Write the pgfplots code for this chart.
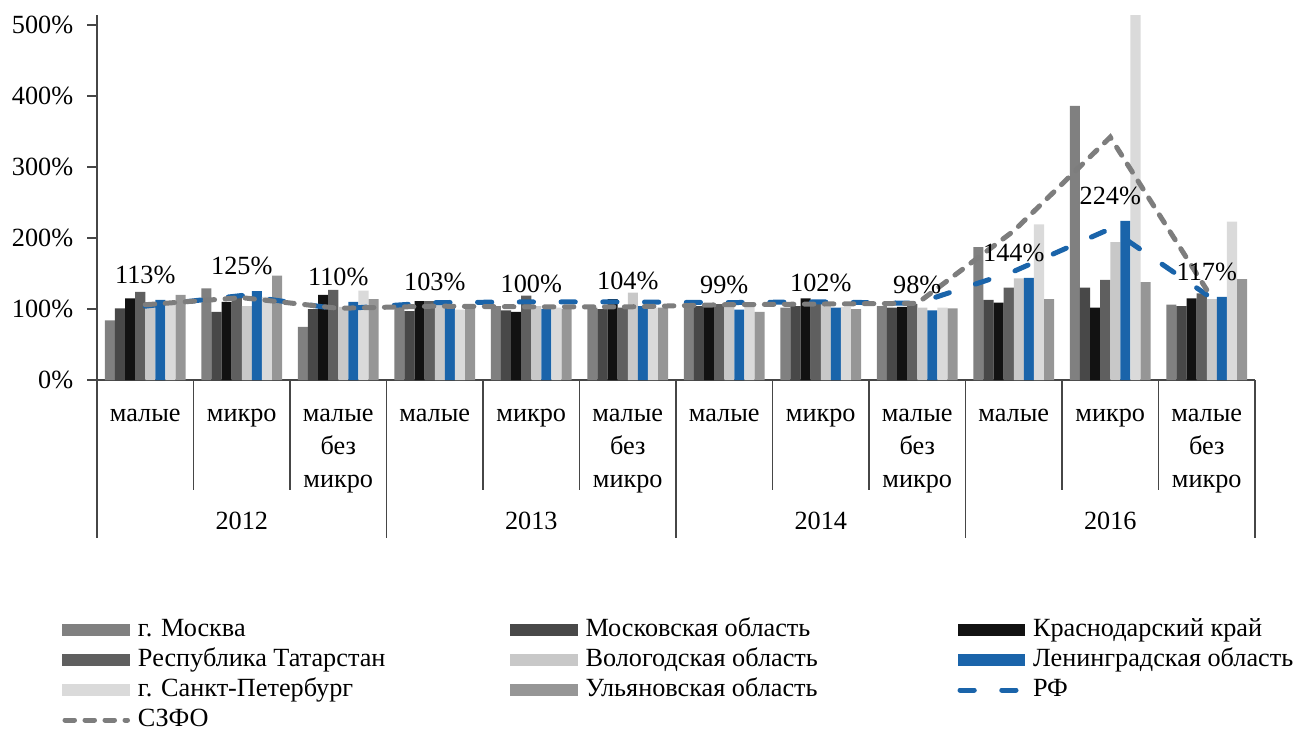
\documentclass[border=0pt]{standalone}
\usepackage{fontspec}
\setmainfont{Liberation Serif}
\usepackage{pgfplots}
\usepackage{pgfplotstable}
\pgfplotsset{compat=1.18}
\definecolor{cMos}{RGB}{128,128,128}
\definecolor{cMO}{RGB}{72,72,72}
\definecolor{cKr}{RGB}{18,18,18}
\definecolor{cTat}{RGB}{95,95,95}
\definecolor{cVol}{RGB}{200,200,200}
\definecolor{cLen}{RGB}{26,100,170}
\definecolor{cSpb}{RGB}{218,218,218}
\definecolor{cUly}{RGB}{150,150,150}
\definecolor{cSz}{RGB}{125,125,125}
\definecolor{cAx}{RGB}{70,70,70}
\newcommand{\lbl}{\rmfamily\fontsize{10.5}{13.2}\selectfont}
\pgfplotsset{
 mybar/.style={ybar, bar width=4.04pt, draw=none,
   legend image code/.code={\fill[##1] (0pt,-2.4pt) rectangle (27pt,2.4pt);}},
 myline/.style={sharp plot, no marks, line width=2pt, line cap=round,
   legend image code/.code={\draw[##1] (1pt,0pt) -- (26pt,0pt);}},
}
\pgfplotstableread{
x Mos MO Kr Tat Vol Len Spb Uly RF SZ
1 84 101 115 124 104 113 106 120 104 106
2 129 96 110 121 104 125 117 147 119 116
3 75 100 120 127 103 110 126 114 100 101
4 104 97 111 111 107 103 99 102 109 104
5 104 98 96 119 104 100 102 100 110 103
6 102 100 114 102 123 104 102 102 110 103
7 104 104 103 107 104 99 106 96 109 106
8 102 104 115 107 108 102 103 100 110 107
9 104 102 103 107 102 98 102 101 108 108
10 187 113 109 130 143 144 219 114 153 210
11 386 130 102 141 194 224 514 138 213 342
12 106 104 115 122 114 117 223 142 120 127
}\data
\begin{document}
\begin{tikzpicture}
\path[use as bounding box] (-38.8pt,-140.4pt) rectangle (479.2pt,152pt);
\begin{axis}[name=a, scale only axis, width=463.2pt, height=146pt,
  xmin=0.5, xmax=12.5, ymin=0, ymax=514, clip=false,
  axis x line*=bottom, axis y line*=left,
  axis line style={cAx, line width=0.7pt},
  tick align=outside, major tick length=4pt,
  xtick={1,...,12}, xtick style={draw=none},
  xticklabels={малые, микро, {малые\\без\\микро}, малые, микро, {малые\\без\\микро}, малые, микро, {малые\\без\\микро}, малые, микро, {малые\\без\\микро}},
  xticklabel style={font=\lbl, align=center, anchor=north, yshift=-4pt},
  ytick={0,100,...,500}, ytick style={cAx, line width=0.7pt},
  yticklabel={\pgfmathparse{int(\tick)}\pgfmathresult\%},
  yticklabel style={font=\lbl, xshift=-2pt},
  /pgf/number format/assume math mode=true,
  legend columns=3, legend cell align=left,
  legend style={draw=none, fill=none, at={(0,0)}, anchor=north west,
    xshift=-14pt, yshift=-94.8pt, font=\lbl, inner sep=0pt, row sep=2.0pt,
    column sep=0pt, nodes={inner sep=0pt, text height=7.5pt, text depth=2.5pt},
    /tikz/every odd column/.append style={column sep=3.2pt}},
]
\addplot[mybar, fill=cMos, bar shift=-14.14pt] table[x=x,y=Mos]{\data};
\addplot[mybar, fill=cMO, bar shift=-10.1pt] table[x=x,y=MO]{\data};
\addplot[mybar, fill=cKr, bar shift=-6.06pt] table[x=x,y=Kr]{\data};
\addplot[mybar, fill=cTat, bar shift=-2.02pt] table[x=x,y=Tat]{\data};
\addplot[mybar, fill=cVol, bar shift=2.02pt] table[x=x,y=Vol]{\data};
\addplot[mybar, fill=cLen, bar shift=6.06pt, point meta=y,
  nodes near coords={\pgfmathprintnumber[fixed,precision=0]{\pgfplotspointmeta}\%},
  nodes near coords style={font=\lbl, text=black, anchor=center, yshift=10pt}] table[x=x,y=Len]{\data};
\addplot[mybar, fill=cSpb, bar shift=10.1pt] table[x=x,y=Spb]{\data};
\addplot[mybar, fill=cUly, bar shift=14.14pt] table[x=x,y=Uly]{\data};
\addplot[myline, cLen, dash pattern=on 5.7pt off 11pt] table[x=x,y=RF]{\data};
\addplot[myline, cSz, dash pattern=on 3.8pt off 4.2pt] table[x=x,y=SZ]{\data};
\legend{{\makebox[148.8pt][l]{г. Москва}}, {\makebox[148.8pt][l]{Московская область}}, {\makebox[148.8pt][l]{Краснодарский край}},
 {\makebox[148.8pt][l]{Республика Татарстан}}, {\makebox[148.8pt][l]{Вологодская область}}, {\makebox[148.8pt][l]{Ленинградская область}},
 {\makebox[148.8pt][l]{г. Санкт-Петербург}}, {\makebox[148.8pt][l]{Ульяновская область}}, {\makebox[148.8pt][l]{РФ}},
 {\makebox[148.8pt][l]{СЗФО}}}
\end{axis}
\foreach \k in {0,3,6,9,12} \draw[cAx, line width=0.7pt] ([xshift=\k*38.6pt]a.south west) -- ++(0,-63pt);
\foreach \k in {1,2,4,5,7,8,10,11} \draw[cAx, line width=0.7pt] ([xshift=\k*38.6pt]a.south west) -- ++(0,-44pt);
\foreach \i/\yr in {0/2012,1/2013,2/2014,3/2016}
  \node[font=\lbl, anchor=base] at ([xshift={(3*\i+1.5)*38.6pt}, yshift=-59.6pt]a.south west) {\yr};
\end{tikzpicture}
\end{document}
